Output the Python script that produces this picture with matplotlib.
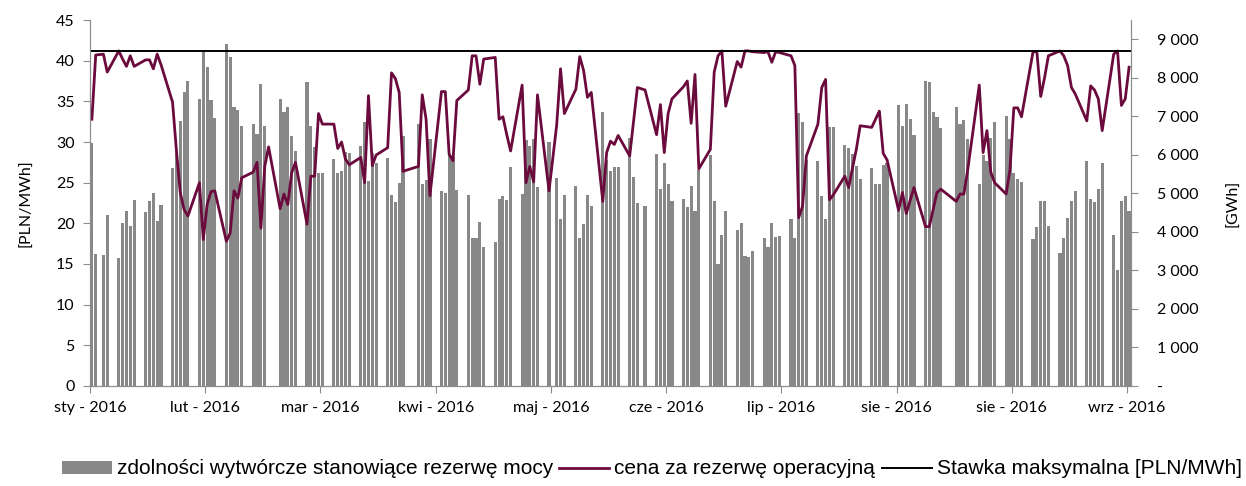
import numpy as np
import pandas as pd
import matplotlib
matplotlib.use("Agg")
import matplotlib.pyplot as plt
from matplotlib.patches import Patch
from matplotlib.lines import Line2D

# dni robocze 2016 (bez świąt)
start = pd.Timestamp("2016-01-04")
holidays = ["2016-01-06", "2016-03-28", "2016-05-03", "2016-05-26", "2016-08-15"]
dates = pd.bdate_range("2016-01-04", "2016-09-30").drop(pd.to_datetime(holidays))

# zdolności wytwórcze stanowiące rezerwę mocy [GWh]
rezerwa = [
    6320, 3420, 3400, 4430,
    3310, 4220, 4540, 4150, 4830,
    4520, 4800, 5000, 4280, 4710,
    5660, 6040, 6870, 7620, 7910,
    7440, 8660, 8270, 7430, 6950,
    8870, 8550, 7230, 7170, 6760,
    6810, 6530, 7850, 6760, np.nan,
    7440, 7120, 7230, 6490, 6100,
    7900, 6750, 6200, 5530, 5530,
    5880, 5540, 5590, 6070, 6040,
    6230, 6850, 5310, 6060, 5800,
    5930, 4960, 4770, 5260, 6490,
    6800, 5240, 5350, 6400,
    5050, 5020, 6000, 5950, 5080,
    4950, 3850, 3830, 4260, 3600,
    3750, 4860, 4940, 4830, 5680,
    4990, 6390, 6230, 6410, 5170,
    6340, 5390, 4340, 4960,
    5200, 3830, 4200, 4960, 4660,
    7120, 5870, 5580, 5680, 5680,
    6430, 5420, 4740, 4680,
    6020, 5110, 5780, 5240, 4810,
    4860, 4640, 5180, 4540, 5610,
    6000, 4810, 3170, 3920, 4540,
    4050, 4220, 3380, 3360, 3510,
    3830, 3620, 4220, 3860, 3890,
    4330, 3850, 7080, 6850, 5870,
    5840, 4940, 4340, 6730, 6730,
    6260, 6170, 6020, 5720, 5370,
    5650, 5240, 5250, 5740, 5800,
    7300, 6740, 7330, 6940, 6520,
    7920, 7900, 7100, 6970, 6700,
    7250, 6790, 6900, 6400,
    5240, 6000, 5850, 6430, 6840,
    7010, 6410, 5520, 5370, 5290,
    3810, 4120, 4790, 4810, 4150,
    3440, 3830, 4350, 4800, 5070,
    5840, 4860, 4780, 5110, 5780,
    3920, 3010, 4800, 4930, 4550,
]

# cena za rezerwę operacyjną [PLN/MWh]
cena = [
    32.8, 40.7, 40.8, 38.6,
    41.2, 40.2, 39.3, 40.6, 39.3,
    40.1, 40.1, 39.0, 40.8, 39.5,
    34.9, 29.0, 23.8, 21.7, 20.9,
    25.0, 18.0, 22.3, 23.9, 24.0,
    17.8, 18.8, 24.0, 23.1, 25.6,
    26.3, 27.5, 19.4, 27.0, 29.4,
    21.8, 23.6, 22.3, 26.2, 27.5,
    19.9, 25.8, 25.8, 33.5, 32.2,
    32.2, 29.2, 30.0, 27.9, 27.2,
    28.1, 25.0, 35.7, 27.1, 28.4,
    29.3, 38.5, 37.8, 36.1, 26.4,
    27.0, 35.8, 32.8, 23.4,
    36.2, 36.2, 28.5, 27.7, 35.1,
    36.4, 40.6, 40.6, 37.1, 40.2,
    40.4, 32.8, 33.1, 30.9, 28.9,
    37.0, 25.0, 27.0, 25.1, 35.8,
    24.0, 32.1, 39.0, 33.5,
    36.5, 40.5, 38.8, 35.5, 36.1,
    22.7, 28.7, 30.1, 29.7, 30.8,
    28.3, 32.5, 36.7, 36.4,
    30.9, 34.6, 28.7, 33.5, 35.3,
    36.8, 37.5, 32.3, 38.3, 26.7,
    29.1, 38.6, 40.6, 41.2, 34.4,
    39.9, 39.2, 41.2, 41.2, 41.1,
    41.0, 41.1, 39.8, 41.1, 41.0,
    40.6, 39.4, 20.7, 22.1, 28.3,
    32.2, 36.7, 37.7, 22.9, 23.5,
    25.8, 24.4, 26.8, 29.1, 32.0,
    31.8, 32.8, 33.8, 28.6, 27.8,
    21.6, 23.8, 21.2, 22.8, 24.4,
    19.6, 19.6, 21.7, 23.8, 24.2,
    22.7, 23.6, 23.6, 26.6,
    37.0, 28.7, 31.4, 26.3, 25.0,
    23.6, 26.6, 34.2, 34.2, 33.1,
    41.1, 41.1, 35.6, 37.9, 40.6,
    41.2, 40.6, 39.4, 36.7, 35.9,
    32.6, 36.9, 36.4, 35.3, 31.4,
    40.8, 41.2, 34.5, 35.3, 39.2,
]

stawka_max = 41.2

tick_days = [0, 30, 60, 90, 120, 150, 180, 210, 240, 270]
tick_labels = ["sty - 2016", "lut - 2016", "mar - 2016", "kwi - 2016", "maj - 2016",
               "cze - 2016", "lip - 2016", "sie - 2016", "sie - 2016", "wrz - 2016"]

x = np.array((dates - start).days)

plt.rcParams['font.family'] = ['Lato', 'DejaVu Sans']
axis_grey = '#8c8c8c'
fs = 11.5

fig = plt.figure(figsize=(12.46, 4.86), dpi=100)
ax = fig.add_axes([0.0722, 0.2058, 0.8355, 0.753])
axb = ax.twinx()
ax.set_zorder(axb.get_zorder() + 1)
ax.patch.set_visible(False)

axb.bar(x, rezerwa, width=0.82, color='#888888', linewidth=0)
ax.plot(x, cena, color='#6b0a3c', lw=2.0)
ax.axhline(stawka_max, color='black', lw=1.4)

ax.set_xlim(-0.5, 270.5)
ax.set_ylim(0, 45)
ax.set_yticks(range(0, 46, 5))
axb.set_ylim(0, 9500)
axb.set_yticks(range(0, 9001, 1000))
axb.set_yticklabels(['-'] + ['{} 000'.format(i) for i in range(1, 10)])

ax.set_xticks([d - 0.5 for d in tick_days])
ax.set_xticklabels(tick_labels)

for a in (ax, axb):
    for s in a.spines.values():
        s.set_color(axis_grey)
    a.spines['top'].set_visible(False)
    a.tick_params(colors=axis_grey, labelcolor='black', labelsize=fs, length=5)
ax.tick_params(axis='y', pad=6)
ax.tick_params(axis='x', pad=6)
axb.tick_params(axis='y', pad=14)

ax.set_ylabel('[PLN/MWh]', fontsize=fs, labelpad=16)
axb.set_ylabel('[GWh]', fontsize=fs, labelpad=20)

handles = [Patch(facecolor='#888888', edgecolor='none'),
           Line2D([], [], color='#6b0a3c', lw=2.0),
           Line2D([], [], color='black', lw=1.4)]
labels = ['zdolności wytwórcze stanowiące rezerwę mocy',
          'cena za rezerwę operacyjną',
          'Stawka maksymalna [PLN/MWh]']
fig.legend(handles, labels, loc='center', bbox_to_anchor=(0.523, 0.035), ncol=3,
           frameon=False, prop={'family': 'Liberation Sans', 'size': 15},
           handlelength=2.4, handleheight=0.6, handletextpad=0.25, columnspacing=0.3)

fig.savefig('out.png', dpi=100)
